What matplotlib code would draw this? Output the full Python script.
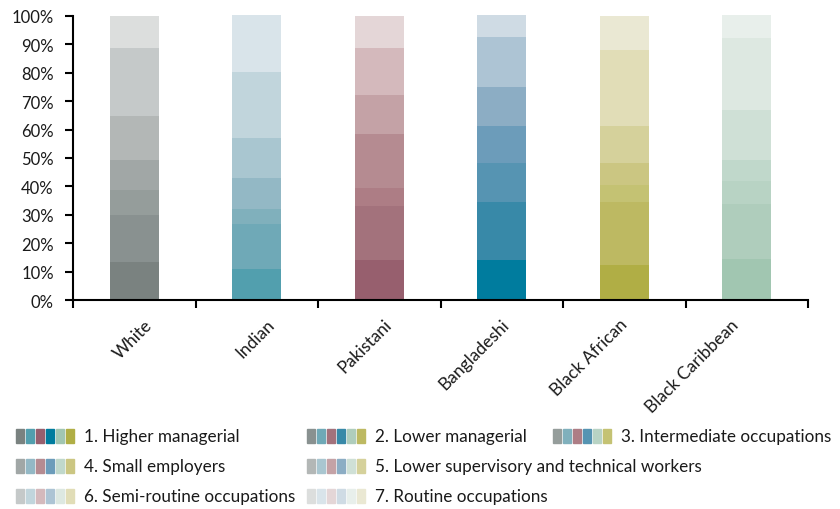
import matplotlib
matplotlib.use("Agg")
import matplotlib.pyplot as plt
from matplotlib.patches import Rectangle
from matplotlib.ticker import PercentFormatter
import matplotlib.transforms as mtransforms

plt.rcParams['font.family'] = ['Lato', 'DejaVu Sans']

groups = ["White", "Indian", "Pakistani", "Bangladeshi", "Black African", "Black Caribbean"]
classes = ["1. Higher managerial", "2. Lower managerial", "3. Intermediate occupations",
           "4. Small employers", "5. Lower supervisory and technical workers",
           "6. Semi-routine occupations", "7. Routine occupations"]

# share (%) of each class, one list per class, in group order
higher_man = [13.4, 10.9, 14.2, 14.2, 12.4, 14.5]
lower_man = [16.5, 15.8, 18.9, 20.4, 22.2, 19.4]
intermediate = [8.9, 5.3, 6.3, 13.7, 6.0, 8.1]
small_emp = [10.4, 10.9, 19.0, 13.0, 7.7, 7.2]
lower_sup = [15.5, 14.1, 13.7, 13.6, 13.0, 17.7]
semi_routine = [23.9, 23.2, 16.5, 17.7, 26.7, 25.4]
routine = [11.4, 20.1, 11.4, 7.7, 12.0, 8.0]
values = [higher_man, lower_man, intermediate, small_emp, lower_sup, semi_routine, routine]

# colour ramps, one per group (dark -> light, class 1..7)
ramps = [
    ["#7a8280", "#899190", "#959d9b", "#a1a7a6", "#b3b7b6", "#c5c9c9", "#dcdedd"],
    ["#529fae", "#6fa9b7", "#80b0bc", "#93b8c5", "#a9c6d0", "#c1d5dc", "#d9e4ea"],
    ["#975f6e", "#a3727c", "#ad7d85", "#b58b91", "#c4a2a6", "#d4b9bc", "#e4d6d7"],
    ["#007c9e", "#3889a8", "#5694b2", "#6c9cba", "#8cadc4", "#adc4d4", "#cfdbe4"],
    ["#b0ae45", "#bdb962", "#c4c273", "#cbc682", "#d5d19b", "#e1ddb7", "#eae8d3"],
    ["#a1c6b1", "#afcdbc", "#b8d3c4", "#c0d8cb", "#cfe0d6", "#dde8e1", "#e8efeb"],
]
legend_order = [0, 1, 2, 3, 5, 4]   # swatch order used in the key

W, H = 840, 510
fig = plt.figure(figsize=(W / 100, H / 100), dpi=100)
ax = fig.add_axes([73 / W, 1 - 301 / H, (808 - 73) / W, (301 - 17) / H])

x = list(range(len(groups)))
bottom = [0.0] * len(groups)
for k, vals in enumerate(values):
    cols = [ramps[g][k] for g in x]
    ax.bar(x, vals, width=0.4, bottom=bottom, color=cols, clip_on=False)
    bottom = [b + v for b, v in zip(bottom, vals)]

ax.set_xlim(-0.5, len(groups) - 0.5)
ax.set_ylim(0, 100)
ax.set_yticks(range(0, 101, 10))
ax.yaxis.set_major_formatter(PercentFormatter(decimals=0))
ax.set_xticks([i - 0.5 for i in range(len(groups) + 1)])
ax.set_xticklabels([])
ax.set_xticks(x, minor=True)
ax.set_xticklabels(groups, minor=True, rotation=45, ha='right', va='top',
                   rotation_mode='anchor', fontsize=12.5, color='#1a1a1a')
ax.tick_params(axis='x', which='minor', length=0, pad=11.5)
ax.tick_params(axis='x', which='major', length=5.8, width=1.5, direction='out')
ax.tick_params(axis='y', length=5.8, width=1.5, direction='out', labelsize=12,
               labelcolor='#1a1a1a', pad=8)

# excel-like placement of the slanted labels (px shift from bar centre)
label_shift = [10, 10, 4, -1, -5, -16]
for lab, dx in zip(ax.get_xticklabels(minor=True), label_shift):
    offset = mtransforms.ScaledTranslation(dx / 100, 0, fig.dpi_scale_trans)
    lab.set_transform(lab.get_transform() + offset)

for s in ['top', 'right']:
    ax.spines[s].set_visible(False)
for s in ['left', 'bottom']:
    ax.spines[s].set_linewidth(1.5)

# legend: six little swatches per class, laid out as in the original
legend_pos = [(16, 437), (307, 437), (553, 437), (16, 467), (307, 467), (16, 497), (307, 497)]
for k, (lx, ly) in enumerate(legend_pos):
    for i, g in enumerate(legend_order):
        fig.patches.append(Rectangle(((lx + i * 10) / W, 1 - (ly + 7) / H), 8 / W, 14 / H,
                                     transform=fig.transFigure, color=ramps[g][k]))
    fig.text((lx + 68) / W, 1 - ly / H, classes[k], fontsize=12.3, va='center', ha='left',
             color='#1a1a1a')

fig.savefig("out.png", dpi=100)
